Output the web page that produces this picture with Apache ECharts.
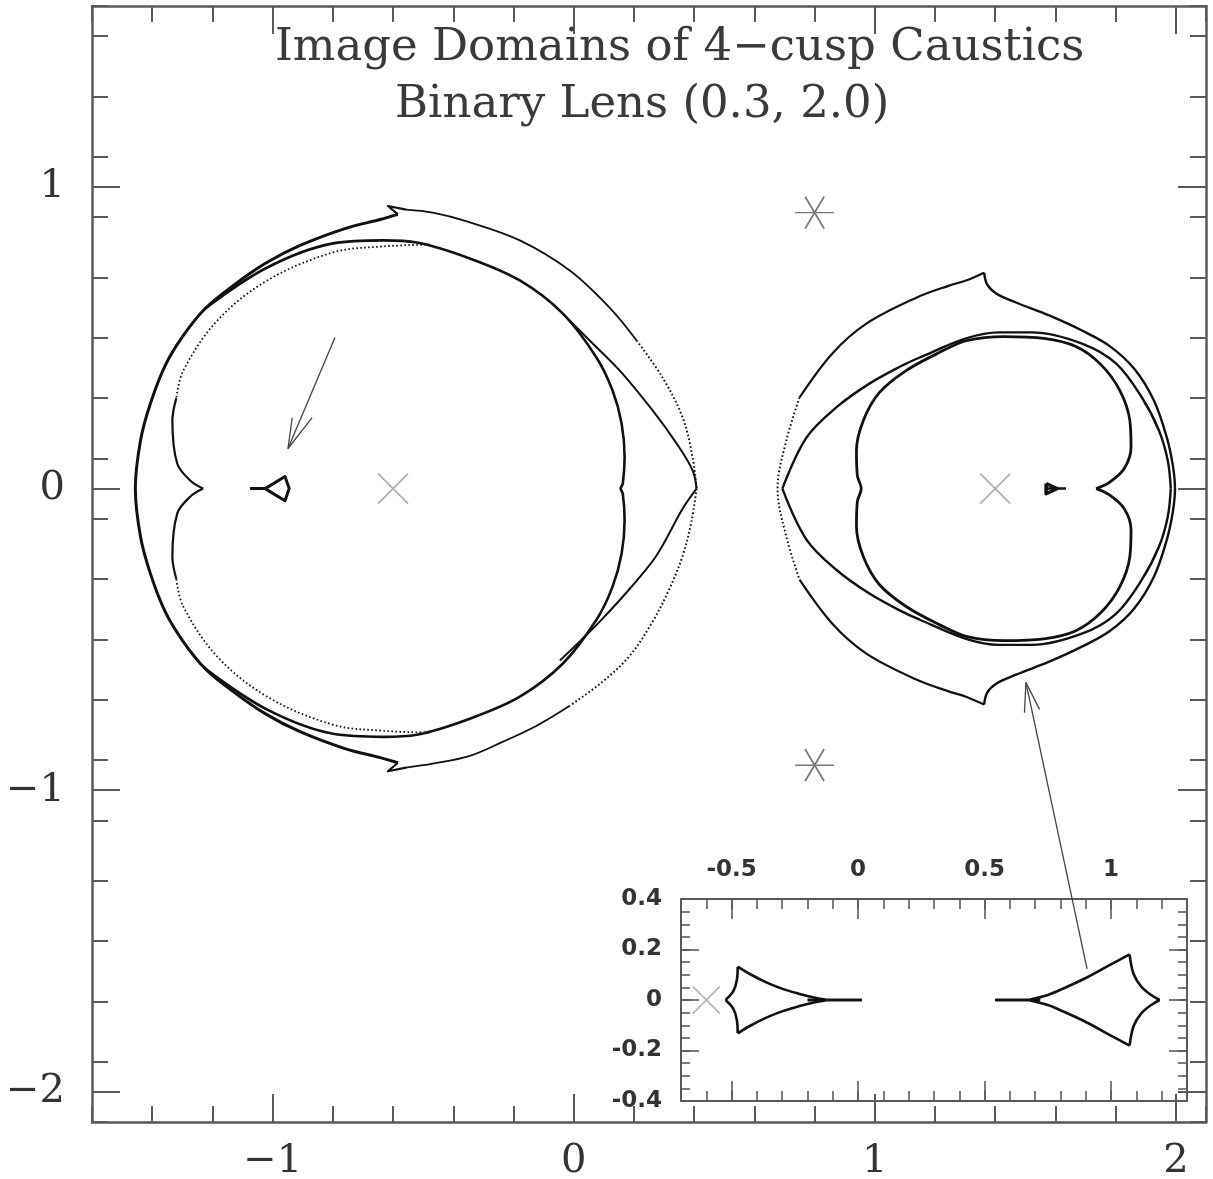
<!DOCTYPE html>
<html>
<head>
<meta charset="utf-8">
<script src="https://cdn.jsdelivr.net/npm/echarts@6/dist/echarts.min.js"></script>
<style>
html,body{margin:0;padding:0;background:#fff;}
#chart{width:1213px;height:1179px;}
</style>
</head>
<body>
<div id="chart"></div>
<script>
// ---------- tick values ----------
const xMainMajor = [-1, 0, 1, 2];
const yMainMajor = [-2, -1, 0, 1];
const insetXMajor = [-0.5, 0, 0.5, 1];
const insetYMajor = [-0.4, -0.2, 0, 0.2, 0.4];

// ---------- main panel: left image domains (around lens at -0.6) ----------
const leftOuterArc = [[-0.584,0.909],[-0.643,0.892],[-0.760,0.862],[-0.909,0.806],[-1.025,0.746],[-1.131,0.673],[-1.224,0.597],[-1.297,0.507],[-1.357,0.408],[-1.406,0.282],[-1.439,0.159],[-1.456,0],[-1.439,-0.159],[-1.406,-0.282],[-1.357,-0.408],[-1.297,-0.507],[-1.224,-0.597],[-1.131,-0.673],[-1.025,-0.746],[-0.909,-0.806],[-0.760,-0.862],[-0.643,-0.892],[-0.584,-0.909]];
const leftTopHook = [[-0.584,0.909],[-0.617,0.937],[-0.557,0.925]];
const leftBottomHook = [[-0.584,-0.909],[-0.617,-0.937],[-0.557,-0.925]];
const leftTopArcSolid = [[-0.557,0.925],[-0.468,0.915],[-0.355,0.886],[-0.179,0.823],[-0.013,0.723],[0.119,0.600],[0.209,0.491]];
const leftTopArcDotted = [[0.209,0.491],[0.295,0.368],[0.362,0.235],[0.395,0.103],[0.408,0]];
const leftBottomArcDotted = [[0.408,0],[0.391,-0.109],[0.362,-0.222],[0.318,-0.332],[0.262,-0.441],[0.186,-0.554],[0.096,-0.640],[-0.013,-0.720]];
const leftBottomArcSolid = [[-0.013,-0.720],[-0.123,-0.786],[-0.235,-0.839],[-0.345,-0.886],[-0.468,-0.912],[-0.557,-0.925]];
const leftInnerLoop = [[-1.224,0.597],[-1.018,0.733],[-0.799,0.813],[-0.633,0.823],[-0.521,0.816],[-0.345,0.763],[-0.179,0.690],[-0.036,0.580],[0.076,0.434],[0.129,0.325],[0.159,0.216],[0.169,0.103],[0.163,0.017],[0.156,0],[0.163,-0.017],[0.169,-0.103],[0.159,-0.216],[0.129,-0.325],[0.076,-0.434],[-0.036,-0.580],[-0.179,-0.690],[-0.345,-0.763],[-0.521,-0.816],[-0.633,-0.823],[-0.799,-0.813],[-1.018,-0.733],[-1.224,-0.597]];
const leftTopChord = [[-0.036,0.580],[0.053,0.491],[0.153,0.391],[0.262,0.259],[0.342,0.149],[0.395,0.060],[0.408,0]];
const leftBottomChord = [[0.408,0],[0.362,-0.066],[0.275,-0.222],[0.186,-0.332],[0.096,-0.431],[0.020,-0.507],[-0.046,-0.570]];
const leftCuspDottedTop = [[-0.478,0.809],[-0.633,0.803],[-0.799,0.783],[-1.018,0.690],[-1.184,0.557],[-1.297,0.391],[-1.320,0.300]];
const leftCuspUpper = [[-1.320,0.300],[-1.333,0.226],[-1.317,0.083],[-1.274,0.027],[-1.231,0]];
const leftCuspLower = [[-1.231,0],[-1.274,-0.027],[-1.317,-0.083],[-1.333,-0.226],[-1.320,-0.300]];
const leftCuspDottedBottom = [[-1.320,-0.300],[-1.297,-0.391],[-1.184,-0.557],[-1.018,-0.690],[-0.799,-0.783],[-0.633,-0.803],[-0.478,-0.809]];
const leftSmallDomain = [[-1.075,0],[-1.025,0],[-0.959,0.040],[-0.945,0],[-0.959,-0.040],[-1.025,0]];

// ---------- main panel: right image domains (around lens at 1.4) ----------
const rightOuterTopLeft = [[1.363,0.716],[1.303,0.690],[1.247,0.673],[1.138,0.633],[0.972,0.547],[0.859,0.448],[0.750,0.302]];
const rightOuterLeftDotted = [[0.750,0.302],[0.706,0.159],[0.677,0],[0.706,-0.159],[0.750,-0.302]];
const rightOuterBottomLeft = [[0.750,-0.302],[0.859,-0.448],[0.972,-0.547],[1.138,-0.633],[1.247,-0.673],[1.303,-0.690],[1.363,-0.716]];
const rightOuterRight = [[1.363,0.716],[1.373,0.677],[1.403,0.647],[1.469,0.617],[1.579,0.574],[1.688,0.524],[1.778,0.474],[1.861,0.398],[1.927,0.292],[1.970,0.169],[1.990,0.076],[1.997,0],[1.990,-0.076],[1.970,-0.169],[1.927,-0.292],[1.861,-0.398],[1.778,-0.474],[1.688,-0.524],[1.579,-0.574],[1.469,-0.617],[1.403,-0.647],[1.373,-0.677],[1.363,-0.716]];
const rightLensUpper = [[0.693,0],[0.773,0.169],[0.872,0.269],[0.982,0.348],[1.091,0.408],[1.148,0.434],[1.303,0.498],[1.413,0.518],[1.522,0.518],[1.688,0.481],[1.801,0.415],[1.887,0.302],[1.944,0.192],[1.973,0.093],[1.983,0]];
const rightLensLower = [[0.693,0],[0.773,-0.169],[0.872,-0.269],[0.982,-0.348],[1.091,-0.408],[1.148,-0.434],[1.303,-0.498],[1.413,-0.518],[1.522,-0.518],[1.688,-0.481],[1.801,-0.415],[1.887,-0.302],[1.944,-0.192],[1.973,-0.093],[1.983,0]];
const rightInnerLoop = [[1.735,0],[1.778,0.020],[1.828,0.066],[1.851,0.136],[1.847,0.226],[1.814,0.325],[1.751,0.411],[1.668,0.471],[1.562,0.498],[1.430,0.504],[1.307,0.491],[1.214,0.451],[1.104,0.391],[1.015,0.318],[0.962,0.226],[0.939,0.126],[0.942,0.043],[0.955,0],[0.942,-0.043],[0.939,-0.126],[0.962,-0.226],[1.015,-0.318],[1.104,-0.391],[1.214,-0.451],[1.307,-0.491],[1.430,-0.504],[1.562,-0.498],[1.668,-0.471],[1.751,-0.411],[1.814,-0.325],[1.847,-0.226],[1.851,-0.136],[1.828,-0.066],[1.778,-0.020],[1.735,0]];
const rightSmallDomain = [[1.569,0.017],[1.605,0],[1.569,-0.017],[1.569,0.017]];
const rightSmallTail = [[1.569,0],[1.635,0]];

// ---------- markers and arrows ----------
const lensPoints = [[-0.6,0],[1.4,0]];
const starPoints = [[0.80,0.915],[0.80,-0.917]];
const arrowLeftShaft = [[-0.793,0.501],[-0.949,0.133]];
const arrowLeftHead = [[-0.935,0.235],[-0.949,0.133],[-0.869,0.235]];
const arrowRightShaft = [[1.705,-1.592],[1.502,-0.643]];
const arrowRightHead = [[1.497,-0.743],[1.502,-0.643],[1.547,-0.732]];

// ---------- inset: caustics ----------
const insetLens = [[-0.6,0]];
const insetLeftTop = [[-0.476,0.132],[-0.428,0.103],[-0.365,0.071],[-0.301,0.045],[-0.238,0.026],[-0.175,0.010],[-0.130,0.002]];
const insetLeftBackTop = [[-0.476,0.132],[-0.479,0.080],[-0.493,0.035],[-0.524,0]];
const insetLeftBackBottom = [[-0.524,0],[-0.493,-0.035],[-0.479,-0.080],[-0.476,-0.132]];
const insetLeftBottom = [[-0.476,-0.132],[-0.428,-0.103],[-0.365,-0.071],[-0.301,-0.045],[-0.238,-0.026],[-0.175,-0.010],[-0.130,-0.002]];
const insetLeftTail = [[-0.200,0],[0.015,0]];
const insetRightTail = [[0.541,0],[0.720,0]];
const insetRightTop = [[0.680,0.002],[0.750,0.020],[0.810,0.045],[0.906,0.090],[1.001,0.142],[1.073,0.181]];
const insetRightBackTop = [[1.073,0.181],[1.089,0.103],[1.120,0.052],[1.160,0.019],[1.192,0]];
const insetRightBackBottom = [[1.192,0],[1.160,-0.019],[1.120,-0.052],[1.089,-0.103],[1.073,-0.181]];
const insetRightBottom = [[1.073,-0.181],[1.001,-0.142],[0.906,-0.090],[0.810,-0.045],[0.750,-0.020],[0.680,-0.002]];

// ---------- styling / building ----------
const FRAME = '#5a5a5a';
const INK = '#111';
const fmtMain = v => { const r = Math.round(v * 1000) / 1000; return r < 0 ? '\u2212' + Math.abs(r) : String(r); };
const fmtInset = v => String(Math.round(v * 100) / 100);

function axis(o) {
  const a = {
    type: 'value', gridIndex: o.grid, position: o.pos, min: o.min, max: o.max,
    axisLine: { show: !!o.line, onZero: false, lineStyle: { color: FRAME, width: o.lw || 2.5 } },
    axisTick: { show: true, inside: true, length: o.tick, lineStyle: { color: FRAME, width: o.tw || 2 } },
    axisLabel: { show: false },
    splitLine: { show: false },
    splitArea: { show: false }
  };
  if (o.interval) a.interval = o.interval;
  if (o.values) a.axisTick.customValues = o.values;
  if (o.labels) {
    a.axisLabel = Object.assign({ show: true, customValues: o.values }, o.labels);
  }
  return a;
}

const mainLabel = { margin: 20, fontFamily: 'DejaVu Serif', fontSize: 40, color: '#333', formatter: fmtMain };
const mainYLabel = Object.assign({}, mainLabel, { margin: 27 });
const insetLabel = { margin: 17, fontFamily: 'DejaVu Sans', fontWeight: 'bold', fontSize: 23, color: '#333', formatter: fmtInset };
const insetYLabel = Object.assign({}, insetLabel, { margin: 19 });

const xAxes = [
  axis({ grid: 0, pos: 'bottom', min: -1.6, max: 2.1, line: true, tick: 28, values: xMainMajor, labels: mainLabel }),
  axis({ grid: 0, pos: 'bottom', min: -1.6, max: 2.1, tick: 16, interval: 0.2 }),
  axis({ grid: 0, pos: 'top', min: -1.6, max: 2.1, line: true, tick: 28, values: xMainMajor }),
  axis({ grid: 0, pos: 'top', min: -1.6, max: 2.1, tick: 16, interval: 0.2 }),
  axis({ grid: 1, pos: 'top', min: -0.7, max: 1.3, line: true, lw: 2, tick: 20, tw: 1.6, values: insetXMajor, labels: insetLabel }),
  axis({ grid: 1, pos: 'top', min: -0.7, max: 1.3, tick: 10, tw: 1.6, interval: 0.1 }),
  axis({ grid: 1, pos: 'bottom', min: -0.7, max: 1.3, line: true, lw: 2, tick: 20, tw: 1.6, values: insetXMajor }),
  axis({ grid: 1, pos: 'bottom', min: -0.7, max: 1.3, tick: 10, tw: 1.6, interval: 0.1 })
];
const yAxes = [
  axis({ grid: 0, pos: 'left', min: -2.1, max: 1.6, line: true, tick: 28, values: yMainMajor, labels: mainYLabel }),
  axis({ grid: 0, pos: 'left', min: -2.1, max: 1.6, tick: 16, interval: 0.2 }),
  axis({ grid: 0, pos: 'right', min: -2.1, max: 1.6, line: true, tick: 28, values: yMainMajor }),
  axis({ grid: 0, pos: 'right', min: -2.1, max: 1.6, tick: 16, interval: 0.2 }),
  axis({ grid: 1, pos: 'left', min: -0.4, max: 0.4, line: true, lw: 2, tick: 18, tw: 1.6, values: insetYMajor, labels: insetYLabel }),
  axis({ grid: 1, pos: 'left', min: -0.4, max: 0.4, tick: 9, tw: 1.6, interval: 0.05 }),
  axis({ grid: 1, pos: 'right', min: -0.4, max: 0.4, line: true, lw: 2, tick: 18, tw: 1.6, values: insetYMajor }),
  axis({ grid: 1, pos: 'right', min: -0.4, max: 0.4, tick: 9, tw: 1.6, interval: 0.05 })
];

function curve(data, width, opts) {
  opts = opts || {};
  return {
    type: 'line', xAxisIndex: opts.inset ? 4 : 0, yAxisIndex: opts.inset ? 4 : 0,
    data: data, symbol: 'none', showSymbol: false, silent: true,
    smooth: opts.smooth === undefined ? 0.35 : opts.smooth,
    lineStyle: { color: opts.color || INK, width: width, type: opts.dotted ? [1.6, 2.4] : 'solid', cap: 'butt', join: 'round' },
    z: 3, animation: false
  };
}

const CROSS = 'path://M0,0L10,10M10,0L0,10';
const STAR = 'path://M0,16L39,16M10,0L29,32M29,0L10,32';

const series = [
  curve(leftOuterArc, 3),
  curve(leftTopHook, 2.2, { smooth: false }),
  curve(leftBottomHook, 2.2, { smooth: false }),
  curve(leftTopArcSolid, 1.8),
  curve(leftTopArcDotted, 2, { dotted: true }),
  curve(leftBottomArcDotted, 2, { dotted: true }),
  curve(leftBottomArcSolid, 1.8),
  curve(leftInnerLoop, 2.6),
  curve(leftTopChord, 2),
  curve(leftBottomChord, 2),
  curve(leftCuspDottedTop, 1.8, { dotted: true }),
  curve(leftCuspUpper, 2.2),
  curve(leftCuspLower, 2.2),
  curve(leftCuspDottedBottom, 1.8, { dotted: true }),
  curve(leftSmallDomain, 3, { smooth: false }),
  curve(rightOuterTopLeft, 2.2),
  curve(rightOuterLeftDotted, 2, { dotted: true }),
  curve(rightOuterBottomLeft, 2.2),
  curve(rightOuterRight, 2.4),
  curve(rightLensUpper, 2.4),
  curve(rightLensLower, 2.4),
  curve(rightInnerLoop, 2.8),
  curve(rightSmallDomain, 3.5, { smooth: false }),
  curve(rightSmallTail, 2.5, { smooth: false }),
  curve(arrowLeftShaft, 1.3, { smooth: false, color: '#444' }),
  curve(arrowLeftHead, 1.3, { smooth: false, color: '#444' }),
  curve(arrowRightShaft, 1.3, { smooth: false, color: '#444' }),
  curve(arrowRightHead, 1.3, { smooth: false, color: '#444' }),
  {
    type: 'scatter', xAxisIndex: 0, yAxisIndex: 0, data: lensPoints, symbol: CROSS, symbolSize: 30,
    itemStyle: { color: 'none', borderColor: '#9a9a9a', borderWidth: 1.6 }, silent: true, z: 4
  },
  {
    type: 'scatter', xAxisIndex: 0, yAxisIndex: 0, data: starPoints, symbol: STAR, symbolSize: [39, 32],
    itemStyle: { color: 'none', borderColor: '#555', borderWidth: 1.6 }, silent: true, z: 4
  },
  // inset
  curve(insetLeftTop, 2.6, { inset: true }),
  curve(insetLeftBackTop, 2.6, { inset: true }),
  curve(insetLeftBackBottom, 2.6, { inset: true }),
  curve(insetLeftBottom, 2.6, { inset: true }),
  curve(insetLeftTail, 3.2, { inset: true, smooth: false }),
  curve(insetRightTail, 3.2, { inset: true, smooth: false }),
  curve(insetRightTop, 2.6, { inset: true }),
  curve(insetRightBackTop, 2.6, { inset: true }),
  curve(insetRightBackBottom, 2.6, { inset: true }),
  curve(insetRightBottom, 2.6, { inset: true }),
  {
    type: 'scatter', xAxisIndex: 4, yAxisIndex: 4, data: insetLens, symbol: CROSS, symbolSize: 27,
    itemStyle: { color: 'none', borderColor: '#9a9a9a', borderWidth: 1.6 }, silent: true, z: 4
  }
];

const chart = echarts.init(document.getElementById('chart'), null, { renderer: 'canvas' });
chart.setOption({
  animation: false,
  backgroundColor: '#ffffff',
  title: [
    { text: 'Image Domains of 4\u2212cusp Caustics', left: 275, top: 26, padding: 0,
      textStyle: { fontFamily: 'DejaVu Serif', fontSize: 45, fontWeight: 'normal', color: '#3a3a3a' } },
    { text: 'Binary Lens (0.3, 2.0)', left: 395, top: 83, padding: 0,
      textStyle: { fontFamily: 'DejaVu Serif', fontSize: 45, fontWeight: 'normal', color: '#3a3a3a' } }
  ],
  grid: [
    { left: 92, top: 6, width: 1114, height: 1116, containLabel: false, outerBoundsMode: 'none' },
    { left: 681, top: 899, width: 506, height: 202, containLabel: false, outerBoundsMode: 'none' }
  ],
  xAxis: xAxes,
  yAxis: yAxes,
  series: series
});
</script>
</body>
</html>
